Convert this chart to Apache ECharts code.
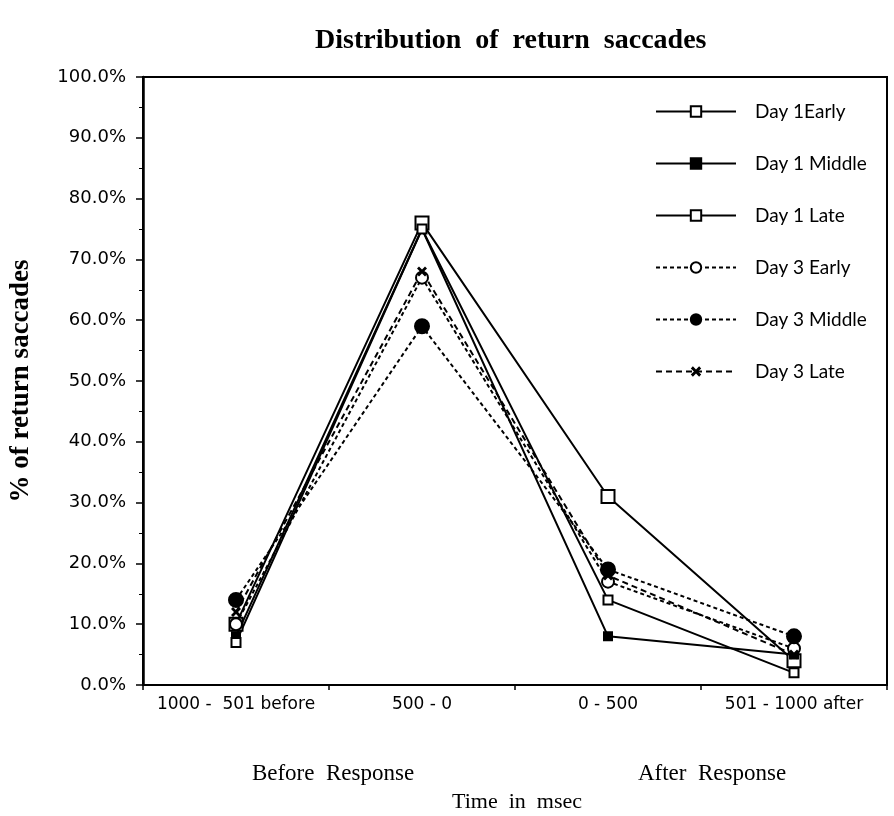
<!DOCTYPE html>
<html>
<head>
<meta charset="utf-8">
<script src="https://cdn.jsdelivr.net/npm/echarts@6/dist/echarts.min.js"></script>
<style>
  html, body { margin: 0; padding: 0; background: #fff; }
  #chart { width: 894px; height: 816px; }
</style>
</head>
<body>
<div id="chart"></div>
<script>
// time windows
var categories = ['1000 -  501 before', '500 - 0', '0 - 500', '501 - 1000 after'];

// % of return saccades
var day1Early  = [10, 76, 31, 4];
var day1Middle = [8, 75, 8, 5];
var day1Late   = [7, 75, 14, 2];
var day3Early  = [10, 67, 17, 6];
var day3Middle = [14, 59, 19, 8];
var day3Late   = [12, 68, 18, 5];

var yTicks = [0, 10, 20, 30, 40, 50, 60, 70, 80, 90, 100];

var serif = '"Liberation Serif", "DejaVu Serif", serif';
var sans = '"DejaVu Sans", sans-serif';
var crossPath = 'path://M0,2L2,0L5,3L8,0L10,2L7,5L10,8L8,10L5,7L2,10L0,8L3,5Z';

function lineSeries(name, data, symbol, size, dash, fill){
	return {
		name: name,
		type: 'line',
		data: data,
		symbol: symbol,
		symbolSize: size,
		showAllSymbol: true,
		lineStyle: { color: '#000', width: 2, type: dash || 'solid' },
		itemStyle: { color: fill, borderColor: '#000', borderWidth: 2 },
		emphasis: { disabled: true },
		z: 3
	};
}

var chart = echarts.init(document.getElementById('chart'));

var option = {
	backgroundColor: '#fff',
	animation: false,
	title: {
		text: 'Distribution  of  return  saccades',
		left: 310,
		top: 22,
		textStyle: { fontFamily: serif, fontWeight: 'bold', fontSize: 28, color: '#000' }
	},
	grid: {
		left: 142, right: 7, top: 77, bottom: 131,
		show: true, borderColor: '#000', borderWidth: 2
	},
	legend: {
		orient: 'vertical',
		left: 650,
		top: 98,
		itemWidth: 80,
		itemHeight: 13,
		itemGap: 33,
		padding: [4, 8, 8, 5],
		backgroundColor: '#fff',
		textStyle: { fontFamily: '"Lato", "Open Sans", sans-serif', fontSize: 19, color: '#000', padding: [0, 0, 0, 14] },
		data: ['Day 1Early', 'Day 1 Middle', 'Day 1 Late', 'Day 3 Early', 'Day 3 Middle', 'Day 3 Late']
	},
	xAxis: {
		type: 'category',
		data: categories,
		boundaryGap: true,
		axisLine: { lineStyle: { color: '#000', width: 2 } },
		axisTick: { show: true, length: 5, lineStyle: { color: '#000', width: 1.5 } },
		axisLabel: { fontFamily: sans, fontSize: 17, color: '#000', margin: 11, interval: 0 },
		splitLine: { show: false }
	},
	yAxis: {
		type: 'value',
		min: 0,
		max: 100,
		interval: 10,
		name: '% of return saccades',
		nameLocation: 'middle',
		nameGap: 108,
		nameTextStyle: { fontFamily: serif, fontWeight: 'bold', fontSize: 27, color: '#000' },
		axisLine: { show: true, lineStyle: { color: '#000', width: 2.5 } },
		axisTick: { show: true, length: 7, lineStyle: { color: '#000', width: 1.5 } },
		minorTick: { show: true, splitNumber: 2, length: 4, lineStyle: { color: '#000', width: 1 } },
		axisLabel: {
			fontFamily: sans, fontSize: 18, color: '#000', margin: 17,
			formatter: function(v){ return yTicks.indexOf(v) >= 0 ? v.toFixed(1) + '%' : ''; }
		},
		splitLine: { show: false }
	},
	graphic: [
		{ type: 'text', x: 333, y: 762, style: { text: 'Before  Response', font: '23px ' + serif, fill: '#000', textAlign: 'center' } },
		{ type: 'text', x: 712, y: 762, style: { text: 'After  Response', font: '23px ' + serif, fill: '#000', textAlign: 'center' } },
		{ type: 'text', x: 517, y: 791, style: { text: 'Time  in  msec', font: '22px ' + serif, fill: '#000', textAlign: 'center' } }
	],
	series: [
		lineSeries('Day 1Early', day1Early, 'rect', 13, null, '#fff'),
		lineSeries('Day 1 Middle', day1Middle, 'rect', 8, null, '#000'),
		lineSeries('Day 1 Late', day1Late, 'rect', 9, null, '#fff'),
		lineSeries('Day 3 Early', day3Early, 'circle', 12, [4, 3], '#fff'),
		lineSeries('Day 3 Middle', day3Middle, 'circle', 14, [4, 3], '#000'),
		lineSeries('Day 3 Late', day3Late, crossPath, 10, [6, 4], '#000')
	]
};

// the cross marker is drawn solid, no outline
option.series[5].itemStyle.borderWidth = 0;

chart.setOption(option);
</script>
</body>
</html>
